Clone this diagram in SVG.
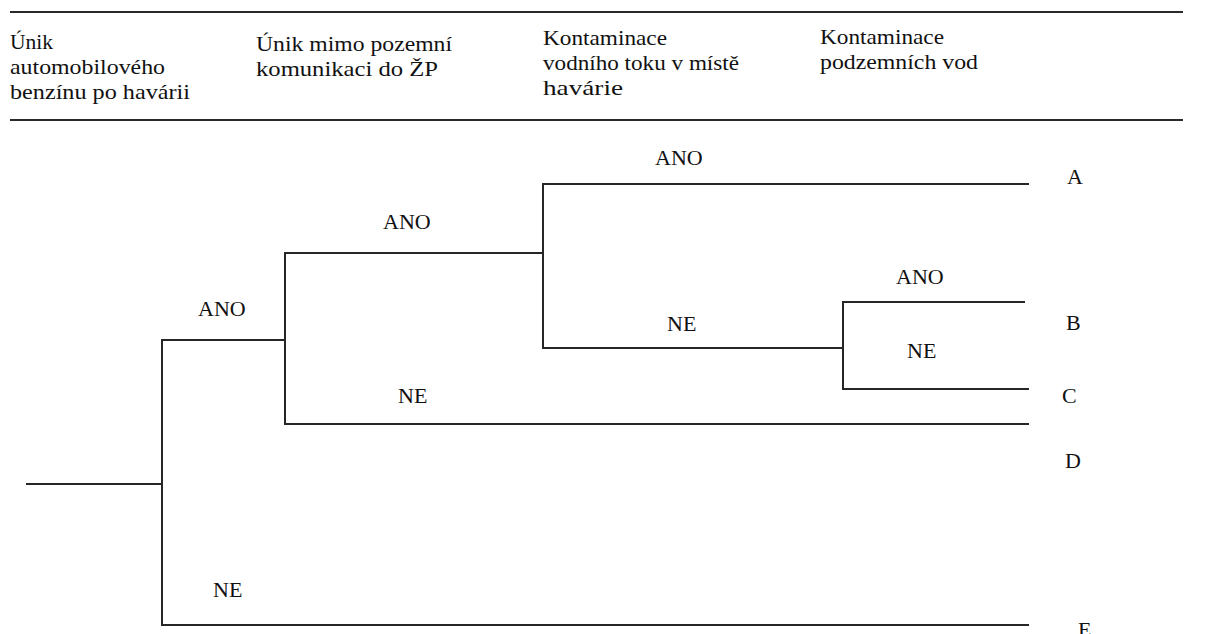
<svg xmlns="http://www.w3.org/2000/svg" width="1210" height="634" viewBox="0 0 1210 634">
  <style>
    .rule { stroke: #2a2a2a; stroke-width: 2.2; fill: none; }
    .edge { stroke: #262626; stroke-width: 2; fill: none; stroke-linecap: square; }
    text { font-family: 'Liberation Serif', 'Times New Roman', serif; font-size: 22px; fill: #111; }
  </style>
  <rect width="1210" height="634" fill="#ffffff"/>

  <!-- table header rules -->
  <g id="header-rules">
    <line class="rule" x1="10" y1="12" x2="1183" y2="12"/>
    <line class="rule" x1="10" y1="120" x2="1183" y2="120"/>
  </g>

  <!-- column headings -->
  <g id="col-1">
    <text x="10" y="49" textLength="43" lengthAdjust="spacingAndGlyphs">Únik</text>
    <text x="10" y="74" textLength="155" lengthAdjust="spacingAndGlyphs">automobilového</text>
    <text x="10" y="99" textLength="180" lengthAdjust="spacingAndGlyphs">benzínu po havárii</text>
  </g>
  <g id="col-2">
    <text x="256" y="51" textLength="196" lengthAdjust="spacingAndGlyphs">Únik mimo pozemní</text>
    <text x="256" y="76" textLength="182" lengthAdjust="spacingAndGlyphs">komunikaci do ŽP</text>
  </g>
  <g id="col-3">
    <text x="543" y="45" textLength="124" lengthAdjust="spacingAndGlyphs">Kontaminace</text>
    <text x="543" y="70" textLength="196" lengthAdjust="spacingAndGlyphs">vodního toku v místě</text>
    <text x="543" y="95" textLength="80" lengthAdjust="spacingAndGlyphs">havárie</text>
  </g>
  <g id="col-4">
    <text x="820" y="44" textLength="124" lengthAdjust="spacingAndGlyphs">Kontaminace</text>
    <text x="820" y="69" textLength="158" lengthAdjust="spacingAndGlyphs">podzemních vod</text>
  </g>

  <!-- event tree branches -->
  <g id="connectors">
    <line class="edge" x1="27" y1="484" x2="162" y2="484"/>
    <line class="edge" x1="162" y1="340" x2="162" y2="625"/>
    <line class="edge" x1="162" y1="340" x2="285" y2="340"/>
    <line class="edge" x1="162" y1="625" x2="1028" y2="625"/>
    <line class="edge" x1="285" y1="253" x2="285" y2="424"/>
    <line class="edge" x1="285" y1="253" x2="543" y2="253"/>
    <line class="edge" x1="285" y1="424" x2="1028" y2="424"/>
    <line class="edge" x1="543" y1="184" x2="543" y2="348"/>
    <line class="edge" x1="543" y1="184" x2="1028" y2="184"/>
    <line class="edge" x1="543" y1="348" x2="843" y2="348"/>
    <line class="edge" x1="843" y1="302" x2="843" y2="389"/>
    <line class="edge" x1="843" y1="302" x2="1024" y2="302"/>
    <line class="edge" x1="843" y1="389" x2="1028" y2="389"/>
  </g>

  <!-- branch labels -->
  <g id="branch-labels">
    <text x="198" y="316">ANO</text>
    <text x="213" y="597">NE</text>
    <text x="383" y="229">ANO</text>
    <text x="398" y="403">NE</text>
    <text x="655" y="165">ANO</text>
    <text x="667" y="331">NE</text>
    <text x="896" y="284">ANO</text>
    <text x="907" y="358">NE</text>
  </g>

  <!-- outcomes -->
  <g id="outcome-A"><text x="1067" y="184">A</text></g>
  <g id="outcome-B"><text x="1066" y="330">B</text></g>
  <g id="outcome-C"><text x="1062" y="403">C</text></g>
  <g id="outcome-D"><text x="1065" y="468">D</text></g>
  <g id="outcome-E"><text x="1078" y="637">E</text></g>
</svg>
